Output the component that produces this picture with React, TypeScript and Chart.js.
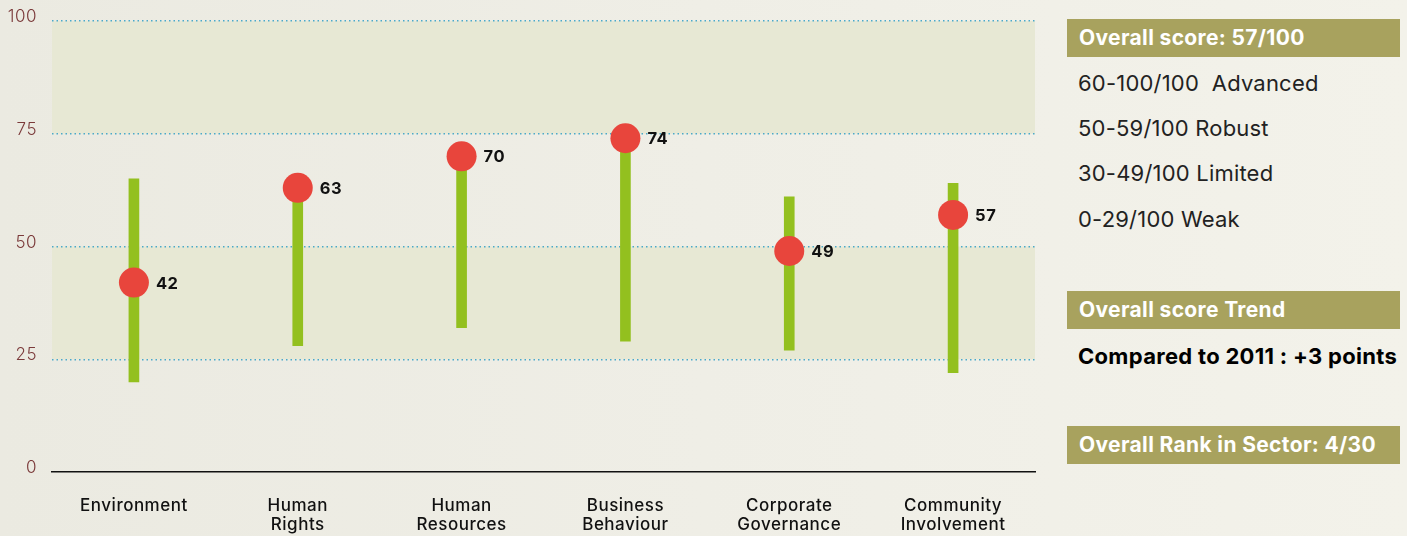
import React, { useEffect, useRef } from "react";
import { Chart, registerables } from "chart.js";

Chart.register(...registerables);

const categories: string[][] = [
  ["Environment"],
  ["Human", "Rights"],
  ["Human", "Resources"],
  ["Business", "Behaviour"],
  ["Corporate", "Governance"],
  ["Community", "Involvement"],
];
const rangeLow: number[] = [20, 28, 32, 29, 27, 22];
const rangeHigh: number[] = [65, 63, 67, 74, 61, 64];
const scores: number[] = [42, 63, 70, 74, 49, 57];
const yTicks: number[] = [0, 25, 50, 75, 100];
const bands: [number, number][] = [
  [75, 100],
  [25, 50],
];

const FONT = "Inter, 'Noto Sans', sans-serif";

const bandPlugin = {
  id: "bands",
  beforeDraw(chart: any) {
    const { ctx, chartArea, scales } = chart;
    const y = scales.y;
    ctx.save();
    ctx.fillStyle = "#e7e8d4";
    bands.forEach(([a, b]) => {
      const top = y.getPixelForValue(b);
      const bot = y.getPixelForValue(a);
      ctx.fillRect(chartArea.left, top, chartArea.right - chartArea.left, bot - top);
    });
    ctx.restore();
  },
};

const labelPlugin = {
  id: "valueLabels",
  afterDatasetsDraw(chart: any) {
    const { ctx } = chart;
    const meta = chart.getDatasetMeta(1);
    ctx.save();
    ctx.font = `700 16.5px ${FONT}`;
    ctx.fillStyle = "#111";
    ctx.textBaseline = "middle";
    ctx.textAlign = "left";
    meta.data.forEach((pt: any, i: number) => {
      ctx.fillText(String(scores[i]), pt.x + 22, pt.y + 1);
    });
    ctx.restore();
  },
};

export default function App() {
  const ref = useRef<HTMLCanvasElement>(null);
  useEffect(() => {
    if (!ref.current) return;
    const chart = new Chart(ref.current, {
      type: "bar",
      data: {
        labels: categories,
        datasets: [
          {
            type: "bar",
            data: rangeLow.map((l, i) => [l, rangeHigh[i]]) as any,
            backgroundColor: "#93c01f",
            barThickness: 10,
            borderSkipped: false,
            order: 2,
          },
          {
            type: "line",
            data: scores,
            showLine: false,
            pointRadius: 15,
            pointHoverRadius: 15,
            pointBackgroundColor: "#e8453c",
            pointBorderWidth: 0,
            order: 1,
          } as any,
        ],
      },
      options: {
        animation: false,
        responsive: true,
        maintainAspectRatio: false,
        layout: { autoPadding: false, padding: { top: 21, right: 15, left: 0, bottom: 0 } },
        plugins: {
          legend: { display: false },
          tooltip: { enabled: false },
        },
        scales: {
          x: {
            grid: { display: false, drawTicks: false },
            border: { display: true, color: "#111", width: 1.5 },
            ticks: {
              color: "#111",
              font: { family: FONT, size: 17, weight: 500, lineHeight: 1.13 },
              padding: 24,
              maxRotation: 0,
              autoSkip: false,
            },
            afterFit(scale: any) {
              scale.height = 64;
              scale.paddingLeft = 0;
              scale.paddingRight = 0;
            },
          },
          y: {
            min: 0,
            max: 100,
            afterBuildTicks(scale: any) {
              scale.ticks = yTicks.map((v) => ({ value: v }));
            },
            grid: {
              drawTicks: false,
              lineWidth: 1.5,
              color: (c: any) => (c.tick && c.tick.value === 0 ? "rgba(0,0,0,0)" : "#4aa9c9"),
            },
            border: { display: false, dash: [1.5, 3] },
            ticks: {
              color: "#7b3a3a",
              font: { family: FONT, size: 17, weight: 300 },
              padding: 15,
              labelOffset: -4,
            },
            afterFit(scale: any) {
              scale.width = 52;
              scale.paddingTop = 0;
              scale.paddingBottom = 0;
            },
          },
        },
      },
      plugins: [bandPlugin, labelPlugin],
    });
    return () => chart.destroy();
  }, []);

  const boxStyle: React.CSSProperties = {
    position: "absolute",
    left: 1067,
    width: 333,
    height: 38,
    background: "#a8a25e",
    color: "#fff",
    fontFamily: FONT,
    fontWeight: 700,
    fontSize: 21,
    letterSpacing: 0.35,
    lineHeight: "38px",
    paddingLeft: 12,
    boxSizing: "border-box",
    whiteSpace: "nowrap",
  };
  const lineStyle: React.CSSProperties = {
    position: "absolute",
    left: 1078,
    fontFamily: FONT,
    fontSize: 22,
    color: "#222",
    lineHeight: "26px",
    whiteSpace: "pre",
    letterSpacing: 0.2,
  };

  return (
    <div
      style={{
        position: "fixed",
        left: 0,
        top: 0,
        width: 1407,
        height: 536,
        background: "linear-gradient(90deg, #ebeae1 0%, #efeee6 50%, #f3f2ea 100%)",
        overflow: "hidden",
      }}
    >
      <div style={{ position: "absolute", left: 0, top: 0, width: 1050, height: 536, letterSpacing: "0.5px" }}>
        <canvas ref={ref} />
      </div>
      <div style={{ ...boxStyle, top: 19 }}>Overall score: 57/100</div>
      <div style={{ ...lineStyle, top: 70 }}>{"60-100/100  Advanced"}</div>
      <div style={{ ...lineStyle, top: 115 }}>50-59/100 Robust</div>
      <div style={{ ...lineStyle, top: 160 }}>30-49/100 Limited</div>
      <div style={{ ...lineStyle, top: 206 }}>0-29/100 Weak</div>
      <div style={{ ...boxStyle, top: 291 }}>Overall score Trend</div>
      <div style={{ ...lineStyle, top: 343, fontWeight: 700, color: "#000", letterSpacing: 0.3 }}>Compared to 2011 : +3 points</div>
      <div style={{ ...boxStyle, top: 426 }}>Overall Rank in Sector: 4/30</div>
    </div>
  );
}
